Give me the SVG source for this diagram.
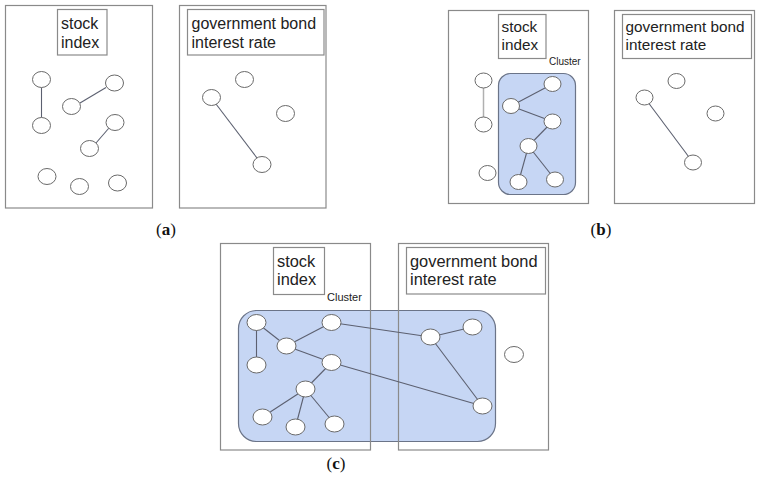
<svg xmlns="http://www.w3.org/2000/svg" width="766" height="485" viewBox="0 0 766 485">
<style>
.bg{fill:#fff}
.box{fill:none;stroke:#8a8a8a;stroke-width:1.2}
.lbl{fill:#fff;stroke:#8a8a8a;stroke-width:1.2}
.t{font-family:"Liberation Sans",Arial,sans-serif;font-size:16px;fill:#222}
.tb{font-size:15.3px}
.tc{font-size:16.4px}
.cl{font-family:"Liberation Sans",Arial,sans-serif;fill:#222}
.cluster{fill:#c6d6f4;stroke:#6b7488;stroke-width:1.2}
.n{fill:#fff;stroke:#6a6a6a;stroke-width:1}
.e{stroke:#5c6070;stroke-width:1.1;fill:none}
.cap{font-family:"Liberation Serif","Times New Roman",serif;font-size:17px;fill:#111;text-anchor:middle}
</style>
<rect class="bg" x="0" y="0" width="766" height="485"/>

<!-- Panel (a) -->
<g id="a-stock">
<rect class="box" x="5.5" y="5.5" width="147" height="202.5"/>
<rect class="lbl" x="57.5" y="9.5" width="49.5" height="45.5"/>
<text class="t" x="61" y="28.5">stock</text>
<text class="t" x="61" y="47.5">index</text>
</g>
<g id="a-bond">
<rect class="box" x="179.5" y="5.5" width="146.5" height="202.5"/>
<rect class="lbl" x="187.5" y="9.5" width="136.5" height="45.5"/>
<text class="t" x="191.5" y="28.5">government bond</text>
<text class="t" x="191.5" y="47.5">interest rate</text>
</g>
<g id="a-edges">
<line class="e" x1="41.5" y1="87.5" x2="41.5" y2="117.5"/>
<line class="e" x1="80" y1="103" x2="106" y2="87.5"/>
<line class="e" x1="96" y1="143" x2="109" y2="128"/>
<line class="e" x1="216" y1="104" x2="257" y2="158"/>
</g>
<g id="a-nodes">
<ellipse class="n" cx="41.5" cy="79.5" rx="9" ry="8"/>
<ellipse class="n" cx="41.5" cy="125.5" rx="9" ry="8"/>
<ellipse class="n" cx="114.5" cy="83" rx="9" ry="8"/>
<ellipse class="n" cx="71.5" cy="106.5" rx="9" ry="8"/>
<ellipse class="n" cx="115" cy="122.5" rx="9" ry="8"/>
<ellipse class="n" cx="89.5" cy="148.5" rx="9" ry="8"/>
<ellipse class="n" cx="47" cy="176.5" rx="9" ry="8"/>
<ellipse class="n" cx="79.5" cy="186.5" rx="9" ry="8"/>
<ellipse class="n" cx="117.5" cy="183" rx="9" ry="8"/>
<ellipse class="n" cx="244.5" cy="79.5" rx="9" ry="8"/>
<ellipse class="n" cx="211.5" cy="97.5" rx="9" ry="8"/>
<ellipse class="n" cx="285.5" cy="113.5" rx="9" ry="8"/>
<ellipse class="n" cx="262" cy="164.5" rx="9" ry="8"/>
</g>
<text class="cap" x="166" y="235">(<tspan font-weight="bold">a</tspan>)</text>

<!-- Panel (b) -->
<g id="b-cluster">
<rect class="cluster" x="498.5" y="73.5" width="77" height="121" rx="12"/>
<text class="cl" x="549" y="65" font-size="10">Cluster</text>
</g>
<g id="b-stock">
<rect class="box" x="448.5" y="10.5" width="140" height="193"/>
<rect class="lbl" x="498.5" y="14.5" width="47.5" height="44"/>
<text class="t tb" x="501.5" y="31.5">stock</text>
<text class="t tb" x="501.5" y="50">index</text>
</g>
<g id="b-bond">
<rect class="box" x="614.5" y="10.5" width="140" height="193"/>
<rect class="lbl" x="622.5" y="14.5" width="129" height="44"/>
<text class="t tb" x="625.5" y="31.5">government bond</text>
<text class="t tb" x="625.5" y="50">interest rate</text>
</g>
<g id="b-edges">
<line x1="483.5" y1="88" x2="483.5" y2="117" stroke="#b0b0b0" stroke-width="1.5"/>
<line class="e" x1="511" y1="106" x2="552.5" y2="84"/>
<line class="e" x1="511" y1="106" x2="552.5" y2="121.5"/>
<line class="e" x1="552.5" y1="121.5" x2="528.5" y2="146"/>
<line class="e" x1="528.5" y1="146" x2="518.5" y2="182"/>
<line class="e" x1="528.5" y1="146" x2="555" y2="179.5"/>
<line class="e" x1="644.5" y1="97.5" x2="693" y2="162.5"/>
</g>
<g id="b-nodes">
<ellipse class="n" cx="483.5" cy="80.5" rx="8.5" ry="7.5"/>
<ellipse class="n" cx="483.5" cy="124.5" rx="8.5" ry="7.5"/>
<ellipse class="n" cx="487.5" cy="173" rx="8.5" ry="7.5"/>
<ellipse class="n" cx="552.5" cy="84" rx="8.5" ry="7.5"/>
<ellipse class="n" cx="511" cy="106" rx="8.5" ry="7.5"/>
<ellipse class="n" cx="552.5" cy="121.5" rx="8.5" ry="7.5"/>
<ellipse class="n" cx="528.5" cy="146" rx="8.5" ry="7.5"/>
<ellipse class="n" cx="518.5" cy="182" rx="8.5" ry="7.5"/>
<ellipse class="n" cx="555" cy="179.5" rx="8.5" ry="7.5"/>
<ellipse class="n" cx="676.5" cy="81" rx="8.5" ry="7.5"/>
<ellipse class="n" cx="644.5" cy="97.5" rx="8.5" ry="7.5"/>
<ellipse class="n" cx="715.5" cy="113.5" rx="8.5" ry="7.5"/>
<ellipse class="n" cx="693" cy="162.5" rx="8.5" ry="7.5"/>
</g>
<text class="cap" x="601" y="235">(<tspan font-weight="bold">b</tspan>)</text>

<!-- Panel (c) -->
<g id="c-cluster">
<rect class="cluster" x="238.5" y="310.5" width="257" height="131" rx="18"/>
<text class="cl" x="327" y="301" font-size="11">Cluster</text>
</g>
<g id="c-stock">
<rect class="box" x="220.5" y="243.5" width="150" height="206.5"/>
<rect class="lbl" x="273.5" y="247.5" width="51" height="47"/>
<text class="t tc" x="277" y="266.5">stock</text>
<text class="t tc" x="277" y="285">index</text>
</g>
<g id="c-bond">
<rect class="box" x="398.5" y="243.5" width="150" height="206.5"/>
<rect class="lbl" x="406.5" y="247.5" width="139" height="46.5"/>
<text class="t tc" x="410" y="266.5">government bond</text>
<text class="t tc" x="410" y="285">interest rate</text>
</g>
<g id="c-edges">
<line class="e" x1="256.5" y1="322.5" x2="256.5" y2="365"/>
<line class="e" x1="256.5" y1="322.5" x2="286.5" y2="346"/>
<line class="e" x1="286.5" y1="346" x2="331.5" y2="322.5"/>
<line class="e" x1="331.5" y1="322.5" x2="430.5" y2="337"/>
<line class="e" x1="430.5" y1="337" x2="472.5" y2="327"/>
<line class="e" x1="430.5" y1="337" x2="482.5" y2="406"/>
<line class="e" x1="286.5" y1="346" x2="331.5" y2="362.5"/>
<line class="e" x1="331.5" y1="362.5" x2="482.5" y2="406"/>
<line class="e" x1="331.5" y1="362.5" x2="305.5" y2="389"/>
<line class="e" x1="305.5" y1="389" x2="262.5" y2="417"/>
<line class="e" x1="305.5" y1="389" x2="295.5" y2="427"/>
<line class="e" x1="305.5" y1="389" x2="334.5" y2="424"/>
</g>
<g id="c-nodes">
<ellipse class="n" cx="256.5" cy="322.5" rx="9.5" ry="8"/>
<ellipse class="n" cx="331.5" cy="322.5" rx="9.5" ry="8"/>
<ellipse class="n" cx="286.5" cy="346" rx="9.5" ry="8"/>
<ellipse class="n" cx="256.5" cy="365" rx="9.5" ry="8"/>
<ellipse class="n" cx="331.5" cy="362.5" rx="9.5" ry="8"/>
<ellipse class="n" cx="305.5" cy="389" rx="9.5" ry="8"/>
<ellipse class="n" cx="262.5" cy="417" rx="9.5" ry="8"/>
<ellipse class="n" cx="295.5" cy="427" rx="9.5" ry="8"/>
<ellipse class="n" cx="334.5" cy="424" rx="9.5" ry="8"/>
<ellipse class="n" cx="430.5" cy="337" rx="9.5" ry="8"/>
<ellipse class="n" cx="472.5" cy="327" rx="9.5" ry="8"/>
<ellipse class="n" cx="514" cy="354.5" rx="9.5" ry="8"/>
<ellipse class="n" cx="482.5" cy="406" rx="9.5" ry="8"/>
</g>
<text class="cap" x="336" y="469">(<tspan font-weight="bold">c</tspan>)</text>
</svg>
